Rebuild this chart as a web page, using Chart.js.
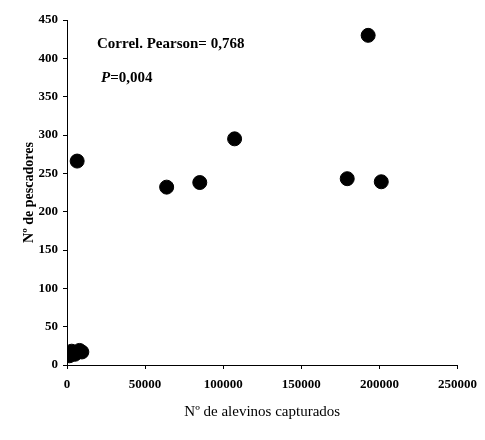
<!DOCTYPE html>
<html>
<head>
<meta charset="utf-8">
<script src="https://cdn.jsdelivr.net/npm/chart.js@4"></script>
<style>
  html, body { margin: 0; padding: 0; background: #fff; }
  #wrap { width: 485px; height: 440px; position: relative; }
</style>
</head>
<body>
<div id="wrap"><canvas id="c" width="485" height="440"></canvas></div>
<script>
// Data
const alevinos   = [1500, 3000, 5000, 8000, 9500, 6500, 63800, 85000, 107300, 179400, 192800, 201200];
const pescadores = [12, 18, 14, 19, 17, 266, 232, 238, 295, 243, 430, 239];
const xTicks = [0, 50000, 100000, 150000, 200000, 250000];
const yTicks = [0, 50, 100, 150, 200, 250, 300, 350, 400, 450];
const annotLine1 = "Correl. Pearson= 0,768";
const annotP = "P";
const annotLine2 = "=0,004";

const points = alevinos.map((x, i) => ({ x: x, y: pescadores[i] }));

const annotPlugin = {
  id: 'annot',
  afterDraw(chart) {
    const ctx = chart.ctx;
    ctx.save();
    ctx.fillStyle = '#000';
    ctx.textBaseline = 'middle';
    ctx.textAlign = 'left';
    ctx.font = 'bold 15px "Liberation Serif"';
    ctx.fillText(annotLine1, 97, 44);
    ctx.font = 'italic bold 15px "Liberation Serif"';
    ctx.fillText(annotP, 101, 78);
    const w = ctx.measureText(annotP).width;
    ctx.font = 'bold 15px "Liberation Serif"';
    ctx.fillText(annotLine2, 101 + w, 78);
    ctx.restore();
  }
};

new Chart(document.getElementById('c'), {
  type: 'scatter',
  data: {
    datasets: [{
      data: points,
      backgroundColor: '#000',
      borderColor: '#000',
      pointRadius: 7,
      pointHoverRadius: 7
    }]
  },
  options: {
    responsive: false,
    animation: false,
    events: [],
    layout: { padding: { top: 20, right: 27, left: 21, bottom: 15 } },
    plugins: { legend: { display: false }, tooltip: { enabled: false } },
    scales: {
      x: {
        type: 'linear',
        min: 0, max: 250000,
        afterBuildTicks(axis) { axis.ticks = xTicks.map(v => ({ value: v })); },
        afterFit(axis) { axis.height = 60; },
        grid: { display: true, drawOnChartArea: false, drawTicks: true, tickLength: 4, color: '#000' },
        border: { display: true, color: '#000', width: 1 },
        ticks: {
          color: '#000',
          font: { family: '"Liberation Serif"', size: 13, weight: 'bold' },
          padding: 8,
          maxRotation: 0,
          callback: v => String(v)
        },
        title: {
          display: true,
          text: 'Nº de alevinos capturados',
          color: '#000',
          font: { family: '"Liberation Serif"', size: 15 },
          padding: { top: 4, bottom: 4 }
        }
      },
      y: {
        type: 'linear',
        min: 0, max: 450,
        afterBuildTicks(axis) { axis.ticks = yTicks.map(v => ({ value: v })); },
        afterFit(axis) { axis.width = 46; },
        grid: { display: true, drawOnChartArea: false, drawTicks: true, tickLength: 4, color: '#000' },
        border: { display: true, color: '#000', width: 1 },
        ticks: {
          color: '#000',
          font: { family: '"Liberation Serif"', size: 13, weight: 'bold' },
          padding: 5,
          callback: v => String(v)
        },
        title: {
          display: true,
          text: 'Nº de pescadores',
          color: '#000',
          font: { family: '"Liberation Serif"', size: 14, weight: 'bold' },
          padding: { top: 0, bottom: 0 }
        }
      }
    }
  },
  plugins: [annotPlugin]
});
</script>
</body>
</html>
